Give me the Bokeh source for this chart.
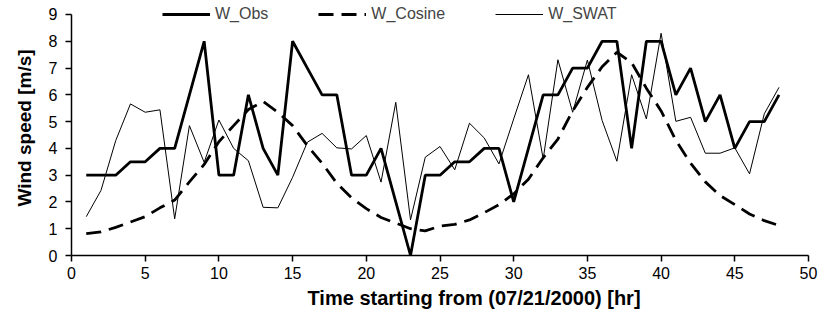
from bokeh.plotting import figure
from bokeh.models import Range1d, Legend, LegendItem, FixedTicker, Title
from bokeh.embed import file_html
from bokeh.resources import INLINE

hours = list(range(1, 49))
w_obs = [3, 3, 3, 3.5, 3.5, 4, 4, 6, 8, 3, 3, 6, 4, 3, 8, 7, 6, 6, 3, 3, 4, 2, 0, 3,
         3, 3.5, 3.5, 4, 4, 2, 4, 6, 6, 7, 7, 8, 8, 4, 8, 8, 6, 7, 5, 6, 4, 5, 5, 6]
w_cosine = [0.82, 0.88, 1.05, 1.25, 1.45, 1.78, 2.07, 2.75, 3.4, 4.25, 4.85, 5.45,
            5.75, 5.35, 4.85, 4.1, 3.45, 2.7, 2.15, 1.75, 1.42, 1.21, 1.0, 0.92,
            1.1, 1.16, 1.33, 1.6, 1.9, 2.3, 2.85, 3.65, 4.35, 5.4, 6.28, 7.05,
            7.59, 7.2, 6.25, 5.4, 4.3, 3.45, 2.75, 2.24, 1.9, 1.55, 1.3, 1.12]
w_swat = [1.45, 2.43, 4.29, 5.66, 5.35, 5.44, 1.37, 4.85, 3.48, 5.06, 4.0, 3.54,
          1.8, 1.78, 2.92, 4.23, 4.56, 4.02, 3.98, 4.48, 2.74, 5.72, 1.33, 3.67,
          4.07, 3.2, 4.94, 4.39, 3.42, 5.1, 6.75, 3.6, 7.31, 5.35, 7.3, 5.04,
          3.52, 6.75, 5.1, 8.3, 5.01, 5.16, 3.82, 3.82, 4.02, 3.05, 5.29, 6.28]
x_ticks = [0, 5, 10, 15, 20, 25, 30, 35, 40, 45, 50]
y_ticks = [0, 1, 2, 3, 4, 5, 6, 7, 8, 9]

FONT = "Liberation Sans"

# frame spans the full top so the legend (which sits above the 9 tick) is not clipped;
# the y axis line itself is bounded to 0..9
p = figure(width=822, height=322, output_backend="svg", toolbar_location=None,
           x_range=Range1d(0, 50), y_range=Range1d(0, 9 + 14 / 26.78),
           min_border_left=71, min_border_right=14, min_border_top=0,
           min_border_bottom=67)
p.outline_line_color = None
p.xgrid.visible = False
p.ygrid.visible = False
p.background_fill_color = "white"
p.border_fill_color = "white"

r_obs = p.line(hours, w_obs, line_color="black", line_width=2.8)
r_cos = p.line(hours, w_cosine, line_color="black", line_width=2.8, line_dash="15 8")
r_swat = p.line(hours, w_swat, line_color="black", line_width=1)

for ax in (p.xaxis[0], p.yaxis[0]):
    ax.axis_line_color = "black"
    ax.axis_line_width = 1.5
    ax.major_tick_line_color = "black"
    ax.major_tick_line_width = 1.5
    ax.major_tick_out = 6
    ax.major_tick_in = 0
    ax.minor_tick_line_color = None
    ax.major_label_text_font = FONT
    ax.major_label_text_font_size = "16px"
    ax.major_label_text_color = "black"
    ax.axis_label_text_font = FONT
    ax.axis_label_text_font_style = "bold"
    ax.axis_label_text_color = "black"

p.yaxis[0].bounds = (0, 9)
p.xaxis[0].ticker = FixedTicker(ticks=x_ticks)
p.yaxis[0].ticker = FixedTicker(ticks=y_ticks)
p.xaxis[0].major_label_standoff = 5
p.yaxis[0].major_label_standoff = 8
p.yaxis[0].axis_label = "Wind speed [m/s]"
p.yaxis[0].axis_label_text_font_size = "19px"
p.yaxis[0].axis_label_standoff = 11

xlabel = Title(text="Time starting from (07/21/2000) [hr]", align="left",
               offset=236, standoff=7, text_font=FONT, text_font_size="20px",
               text_font_style="bold", text_color="black")
p.add_layout(xlabel, "below")

legend = Legend(items=[LegendItem(label="W_Obs", renderers=[r_obs]),
                       LegendItem(label="W_Cosine", renderers=[r_cos]),
                       LegendItem(label="W_SWAT", renderers=[r_swat])],
                orientation="horizontal", location=(91, 232),
                glyph_width=48, glyph_height=14, label_standoff=5, spacing=50,
                padding=0, margin=0,
                label_text_font=FONT, label_text_font_size="16px",
                background_fill_alpha=0, border_line_alpha=0)
p.add_layout(legend, "center")

open("out.html", "w").write(file_html(p, INLINE))
